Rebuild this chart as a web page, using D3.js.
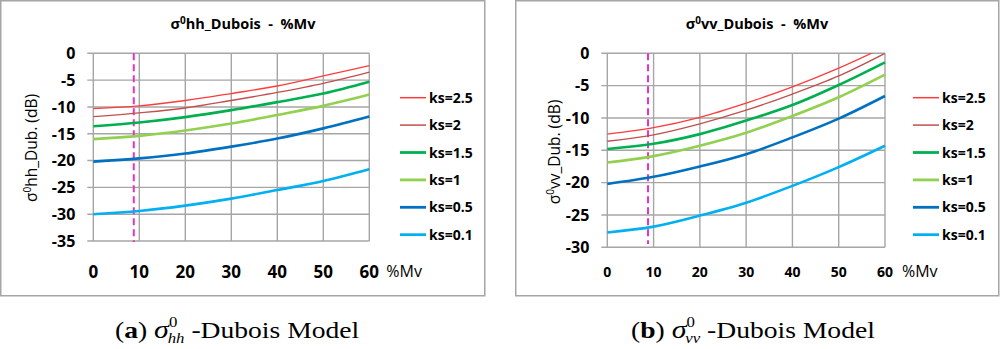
<!DOCTYPE html>
<html>
<head>
<meta charset="utf-8">
<script src="https://cdn.jsdelivr.net/npm/d3@7"></script>
<style>
  body { margin: 0; background: #fff; }
  svg text { font-family: "Open Sans", "Liberation Sans", sans-serif; white-space: pre; }
  .caption { font-family: "Liberation Serif", "DejaVu Serif", serif !important; }
</style>
</head>
<body>
<svg id="chart" width="1000" height="349"></svg>
<script>
// moisture (%Mv) sample points
var mv = [0, 10, 20, 30, 40, 50, 60];
var ksLabels = ["ks=2.5", "ks=2", "ks=1.5", "ks=1", "ks=0.5", "ks=0.1"];
var ksColors = ["#ff3b3b", "#c0504d", "#00b050", "#92d050", "#0070c0", "#00b0f0"];
var ksWidths = [1.3, 1.3, 2.6, 2.6, 2.6, 2.6];

// sigma0 hh, Dubois model (dB)
var hhValues = [
  [-10.3, -9.8, -8.8, -7.5, -6.1, -4.2, -2.3],
  [-11.8, -11.1, -10.2, -8.8, -7.3, -5.6, -3.5],
  [-13.6, -12.9, -11.9, -10.6, -9.1, -7.5, -5.3],
  [-16.0, -15.4, -14.4, -13.1, -11.5, -9.8, -7.7],
  [-20.2, -19.6, -18.7, -17.4, -15.9, -14.0, -11.8],
  [-30.0, -29.4, -28.4, -27.1, -25.5, -23.8, -21.6]
];
// sigma0 vv, Dubois model (dB)
var vvValues = [
  [-12.5, -11.5, -9.9, -7.7, -5.2, -2.3, 1.0],
  [-13.6, -12.6, -10.9, -8.8, -6.3, -3.5, 0.0],
  [-14.8, -14.0, -12.5, -10.4, -8.0, -4.9, -1.4],
  [-16.9, -15.9, -14.3, -12.3, -9.7, -6.8, -3.3],
  [-20.2, -19.1, -17.5, -15.6, -13.0, -10.1, -6.6],
  [-27.7, -26.8, -25.1, -23.1, -20.5, -17.6, -14.3]
];
var hhTicks = [0, -5, -10, -15, -20, -25, -30, -35];
var vvTicks = [0, -5, -10, -15, -20, -25, -30];
var xTicks = [0, 10, 20, 30, 40, 50, 60];
var markerMv = 8.8;

var svg = d3.select("#chart");

function drawPanel(opt) {
  var g = svg.append("g").attr("transform", "translate(" + opt.left + ",0)");

  g.append("rect")
    .attr("x", 0.75).attr("y", 0.75)
    .attr("width", opt.boxW).attr("height", 295)
    .attr("fill", "#fff").attr("stroke", "#a6a6a6").attr("stroke-width", 1.5);

  var x = d3.scaleLinear().domain([0, 60]).range([opt.plotX0, opt.plotX1]);
  var y = d3.scaleLinear().domain([d3.min(opt.yTicks), 0]).range([opt.plotY1, 53.3]);

  var clipId = "clip" + opt.id;
  g.append("clipPath").attr("id", clipId)
    .append("rect")
    .attr("x", x(0) - 2).attr("y", y(0))
    .attr("width", x(60) - x(0) + 4).attr("height", y(d3.min(opt.yTicks)) - y(0));

  // horizontal grid + outer ticks
  g.append("g").selectAll("line").data(opt.yTicks).join("line")
    .attr("x1", x(0) - 6).attr("x2", x(60))
    .attr("y1", d => y(d)).attr("y2", d => y(d))
    .attr("stroke", "#a6a6a6").attr("stroke-width", 1.4);
  // vertical grid
  g.append("g").selectAll("line").data(xTicks).join("line")
    .attr("x1", d => x(d)).attr("x2", d => x(d))
    .attr("y1", y(0)).attr("y2", y(d3.min(opt.yTicks)))
    .attr("stroke", "#a6a6a6").attr("stroke-width", 1.4);

  // y labels
  g.append("g").selectAll("text").data(opt.yTicks).join("text")
    .attr("x", x(0) - 18).attr("y", d => y(d))
    .attr("dy", "0.36em").attr("text-anchor", "end")
    .attr("font-size", 16).attr("font-weight", "bold").attr("fill", "#000")
    .text(d => d);
  // x labels
  g.append("g").selectAll("text").data(xTicks).join("text")
    .attr("x", d => x(d)).attr("y", 272)
    .attr("dy", "0.36em").attr("text-anchor", "middle")
    .attr("font-size", opt.xFont).attr("font-weight", "bold").attr("fill", "#000")
    .text(d => d);
  g.append("text")
    .attr("x", x(60) + 17).attr("y", 271).attr("dy", "0.36em")
    .attr("font-size", 16).attr("fill", "#000").text("%Mv");

  // marker line
  g.append("line")
    .attr("x1", x(markerMv)).attr("x2", x(markerMv))
    .attr("y1", y(0)).attr("y2", opt.markerEnd)
    .attr("stroke", "#e632c8").attr("stroke-width", 2)
    .attr("stroke-dasharray", "7,4");

  var line = d3.line()
    .x((d, i) => x(mv[i]))
    .y(d => y(d))
    .curve(d3.curveMonotoneX);

  g.append("g").attr("clip-path", "url(#" + clipId + ")")
    .selectAll("path").data(opt.values).join("path")
    .attr("d", line)
    .attr("fill", "none")
    .attr("stroke", (d, i) => ksColors[i])
    .attr("stroke-width", (d, i) => ksWidths[i]);

  // title
  var t = g.append("text")
    .attr("x", opt.titleX).attr("y", 29)
    .attr("text-anchor", "middle")
    .attr("font-size", 14.5).attr("font-weight", "bold").attr("fill", "#000");
  t.append("tspan").text("σ");
  t.append("tspan").attr("dy", -5).attr("font-size", 10).text("0");
  t.append("tspan").attr("dy", 5).text(opt.pol + "_Dubois  -  %Mv");

  // y axis title
  var yt = g.append("text")
    .attr("transform", "translate(" + opt.yTitleX + "," + opt.yTitleY + ") rotate(-90)")
    .attr("text-anchor", "middle")
    .attr("font-size", 15.5).attr("fill", "#000");
  yt.append("tspan").text("σ");
  yt.append("tspan").attr("dy", -6).attr("font-size", 10).text("0");
  yt.append("tspan").attr("dy", 6).text(opt.pol + "_Dub. (dB)");

  // legend
  var leg = g.append("g").selectAll("g").data(ksLabels).join("g")
    .attr("transform", (d, i) => "translate(" + opt.legX + "," + (97.7 + i * 27.4) + ")");
  leg.append("line")
    .attr("x1", 0).attr("x2", 26)
    .attr("stroke", (d, i) => ksColors[i])
    .attr("stroke-width", (d, i) => ksWidths[i] + 0.2);
  leg.append("text")
    .attr("x", 29).attr("dy", "0.36em")
    .attr("font-size", 14).attr("font-weight", "bold").attr("fill", "#000")
    .text(d => d);

  // caption (stretched horizontally like the source figure)
  var c = svg.append("text").attr("class", "caption")
    .attr("transform", "translate(" + (opt.left + opt.capX) + ",338) scale(1.2,1)")
    .attr("font-size", 23).attr("fill", "#000");
  c.append("tspan").text("(");
  c.append("tspan").attr("font-weight", "bold").text(opt.tag);
  c.append("tspan").text(") ");
  c.append("tspan").attr("font-style", "italic").attr("font-size", 25).text("σ");
  c.append("tspan").attr("dy", -11).attr("font-size", 14).text("0");
  c.append("tspan").attr("dx", -8).attr("dy", 16).attr("font-size", 14).attr("font-style", "italic").text(opt.pol);
  c.append("tspan").attr("dy", -5).text(" -Dubois Model");
}

drawPanel({
  id: "hh", left: 0, boxW: 484, pol: "hh", tag: "a",
  plotX0: 93.3, plotX1: 369.3, plotY1: 241,
  yTicks: hhTicks, values: hhValues, xFont: 17,
  markerEnd: 242, titleX: 243, yTitleX: 37, yTitleY: 148,
  legX: 400, capX: 115
});
drawPanel({
  id: "vv", left: 515, boxW: 483, pol: "vv", tag: "b",
  plotX0: 92.3, plotX1: 370, plotY1: 247.3,
  yTicks: vvTicks, values: vvValues, xFont: 14,
  markerEnd: 244, titleX: 242, yTitleX: 45, yTitleY: 152,
  legX: 398, capX: 116
});
</script>
</body>
</html>
